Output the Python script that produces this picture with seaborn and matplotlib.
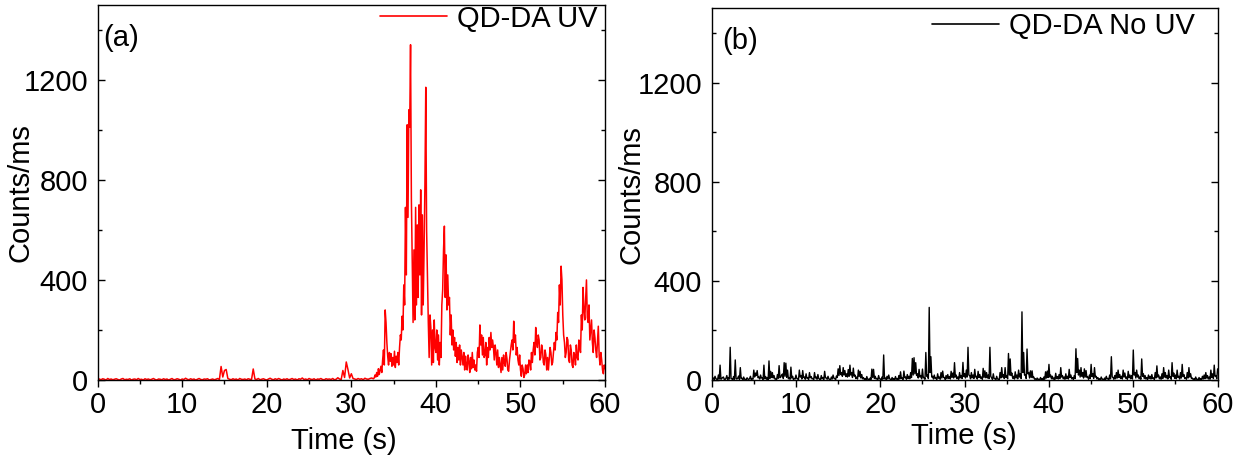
import numpy as np
import pandas as pd
import matplotlib
matplotlib.use("Agg")
import matplotlib.pyplot as plt
from matplotlib.ticker import MultipleLocator
import seaborn as sns

# (a) QD-DA under UV illumination, counts per ms.
# Quiet part sampled every 0.2 s from 0 s, active part every 0.1 s from 32.7 s.
UV_QUIET_DT = 0.2
uv_quiet = [
    # 0.0 - 14.4 s
    2, 4, 1, 5, 3, 0, 6, 2, 4, 1, 3, 5, 2, 0, 4, 6, 1, 3, 2, 5,
    0, 3, 4, 1, 6, 2, 3, 0, 5, 2, 4, 1, 3, 6, 2, 0, 4, 3, 1, 5,
    2, 4, 0, 3, 6, 1, 2, 5, 3, 0, 4, 2, 7, 3, 1, 5, 2, 4, 0, 3,
    6, 2, 1, 4, 3, 5, 0, 2, 4, 1, 3, 6, 2,
    # 14.6 - 15.4 s
    54, 12, 38, 42, 6,
    # 15.6 - 18.2 s
    3, 1, 5, 2, 4, 0, 6, 3, 2, 4, 1, 5, 3, 2,
    # 18.4 s
    44,
    # 18.6 - 28.8 s
    4, 2, 6, 1, 3, 5, 2, 0, 4, 7, 3, 1, 5, 2, 6, 3, 0, 4, 2, 5,
    1, 3, 6, 2, 4, 0, 5, 3, 8, 2, 4, 1, 6, 3, 2, 5, 0, 4, 3, 6,
    2, 1, 5, 3, 4, 2, 6, 1, 3, 9, 4, 2,
    # 29.0 - 30.2 s
    38, 10, 72, 42, 8, 25, 6,
    # 30.4 - 32.6 s
    4, 2, 6, 3, 5, 1, 7, 4, 3, 6, 8, 5,
]

UV_ACTIVE_START = 32.7
UV_ACTIVE_DT = 0.1
uv_active = [
    8, 20, 12, 30, 15, 45, 22, 38, 55, 30,            # 32.7 - 33.6
    80, 120, 60, 280, 230, 150, 95, 60, 110, 75,      # 33.7 - 34.6
    105, 55, 90, 60, 115, 50, 95, 70, 110, 60,        # 34.7 - 35.6
    130, 180, 160, 255, 200, 380, 300, 690, 420, 1020,  # 35.7 - 36.6
    650, 1080, 1010, 1340, 720, 480, 230, 520, 240, 690,  # 36.7 - 37.6
    300, 620, 330, 700, 420, 760, 260, 660, 300, 520,  # 37.7 - 38.6
    780, 1170, 600, 420, 230, 90, 260, 210, 60, 200,   # 38.7 - 39.6
    70, 240, 130, 110, 200, 80, 180, 60, 150, 90,      # 39.7 - 40.6
    300, 360, 520, 615, 330, 500, 280, 420, 300, 330,  # 40.7 - 41.6
    180, 260, 140, 200, 120, 170, 95, 150, 70, 130,    # 41.7 - 42.6
    80, 140, 60, 120, 90, 60, 110, 40, 95, 60,         # 42.7 - 43.6
    40, 100, 75, 30, 90, 45, 110, 50, 80, 40,          # 43.7 - 44.6
    60, 35, 110, 130, 90, 220, 140, 180, 100, 170,     # 44.7 - 45.6
    90, 100, 150, 60, 130, 90, 170, 120, 190, 130,     # 45.7 - 46.6
    160, 130, 80, 140, 110, 60, 120, 50, 90, 60,       # 46.7 - 47.6
    30, 90, 40, 100, 70, 55, 110, 85, 40, 35,          # 47.7 - 48.6
    80, 110, 140, 160, 120, 235, 150, 180, 100, 130,   # 48.7 - 49.6
    80, 60, 100, 40, 15, 60, 45, 10, 20, 60,           # 49.7 - 50.6
    25, 60, 30, 80, 75, 40, 110, 70, 120, 150,         # 50.7 - 51.6
    100, 210, 150, 130, 180, 160, 80, 90, 140, 120,    # 51.7 - 52.6
    70, 60, 120, 100, 40, 90, 40, 85, 130, 110,        # 52.7 - 53.6
    60, 70, 110, 150, 120, 190, 160, 270, 230, 380,    # 53.7 - 54.6
    300, 455, 400, 260, 180, 150, 90, 110, 170, 160,   # 54.7 - 55.6
    80, 70, 140, 120, 60, 50, 110, 100, 60, 140,       # 55.7 - 56.6
    90, 80, 160, 130, 110, 260, 200, 370, 280, 240,    # 56.7 - 57.6
    320, 400, 250, 230, 300, 160, 200, 240, 150, 110,  # 57.7 - 58.6
    200, 170, 120, 90, 150, 215, 100, 60, 110, 80,     # 58.7 - 59.6
    40, 25, 60, 45,                                    # 59.7 - 60.0
]

# (b) QD-DA without UV illumination, counts per ms, sampled every 0.1 s
NO_UV_DT = 0.1
no_uv_counts = [
    44, 5, 8, 2, 15, 6, 3, 0, 20, 4,
    60, 3, 6, 10, 12, 2, 2, 7, 18, 1,
    10, 4, 132, 6, 5, 0, 14, 3, 81, 5,
    4, 8, 16, 2, 50, 6, 7, 1, 12, 3,
    3, 0, 9, 4, 2, 6, 15, 1, 6, 3,
    40, 12, 28, 18, 38, 9, 12, 4, 20, 8,
    8, 2, 60, 5, 14, 3, 10, 1, 77, 6,
    35, 10, 30, 8, 18, 4, 4, 0, 22, 7,
    58, 9, 12, 20, 24, 6, 70, 15, 68, 11,
    40, 5, 10, 3, 52, 8, 15, 2, 6, 4,
    20, 6, 5, 1, 40, 12, 18, 4, 38, 10,
    12, 3, 25, 7, 8, 2, 30, 9, 14, 5,
    6, 1, 30, 8, 12, 3, 22, 6, 4, 0,
    18, 5, 10, 2, 35, 9, 8, 3, 15, 4,
    3, 0, 12, 4, 20, 7, 6, 1, 16, 10,
    45, 18, 58, 22, 30, 15, 50, 20, 38, 14,
    25, 12, 42, 15, 60, 20, 30, 10, 48, 16,
    20, 6, 12, 4, 40, 14, 35, 8, 22, 5,
    10, 2, 5, 0, 14, 3, 3, 1, 8, 2,
    44, 10, 43, 6, 15, 4, 6, 1, 18, 5,
    4, 0, 12, 3, 101, 5, 8, 2, 15, 4,
    20, 5, 3, 0, 10, 2, 6, 1, 14, 3,
    5, 1, 18, 4, 33, 6, 8, 2, 36, 9,
    12, 3, 22, 6, 15, 5, 30, 10, 87, 20,
    90, 25, 70, 18, 25, 8, 43, 12, 18, 5,
    44, 9, 10, 3, 111, 15, 20, 6, 293, 30,
    94, 12, 15, 4, 20, 6, 8, 2, 25, 7,
    12, 3, 30, 8, 36, 10, 10, 2, 18, 5,
    22, 6, 14, 4, 35, 10, 28, 8, 70, 12,
    20, 5, 12, 3, 30, 9, 18, 6, 71, 14,
    25, 8, 40, 12, 132, 20, 18, 5, 30, 9,
    20, 6, 43, 12, 15, 4, 35, 10, 22, 7,
    12, 3, 47, 10, 37, 9, 30, 8, 20, 6,
    132, 15, 8, 2, 25, 6, 5, 1, 15, 4,
    3, 0, 30, 8, 50, 12, 22, 6, 50, 10,
    18, 5, 107, 20, 85, 18, 28, 7, 15, 4,
    33, 8, 20, 5, 40, 12, 25, 6, 275, 30,
    111, 20, 20, 6, 125, 25, 30, 8, 37, 10,
    37, 9, 12, 3, 5, 0, 8, 2, 3, 0,
    10, 2, 6, 1, 12, 3, 33, 8, 36, 10,
    63, 12, 20, 5, 15, 3, 8, 2, 27, 6,
    14, 4, 22, 6, 50, 12, 18, 5, 12, 3,
    25, 6, 15, 4, 43, 10, 20, 5, 10, 2,
    18, 6, 126, 30, 87, 20, 40, 12, 50, 15,
    30, 8, 45, 12, 38, 10, 12, 3, 20, 6,
    63, 14, 25, 6, 50, 12, 15, 4, 10, 2,
    5, 1, 12, 3, 3, 0, 8, 2, 15, 4,
    6, 1, 20, 5, 94, 12, 10, 3, 18, 5,
    30, 8, 40, 10, 22, 6, 15, 4, 40, 12,
    28, 7, 12, 3, 35, 9, 20, 5, 18, 4,
    121, 20, 30, 8, 40, 12, 20, 5, 12, 3,
    85, 15, 25, 6, 18, 4, 10, 2, 20, 6,
    15, 4, 22, 6, 8, 2, 30, 8, 57, 12,
    20, 5, 12, 3, 25, 6, 50, 12, 30, 8,
    18, 4, 40, 10, 12, 3, 70, 15, 28, 7,
    20, 5, 40, 10, 15, 4, 30, 8, 63, 14,
    22, 6, 10, 3, 30, 8, 50, 12, 25, 6,
    8, 2, 5, 1, 12, 3, 3, 0, 10, 2,
    6, 1, 15, 4, 20, 5, 30, 8, 18, 4,
    12, 3, 40, 10, 25, 6, 60, 15, 18, 5,
    45,
]

panel_tags = ["(a)", "(b)"]
series_names = ["QD-DA UV", "QD-DA No UV"]
series_colors = ["#ff0000", "#000000"]
x_label = "Time (s)"
y_label = "Counts/ms"

# Time axes of the two traces
uv_time = np.concatenate([
    np.arange(len(uv_quiet)) * UV_QUIET_DT,
    UV_ACTIVE_START + np.arange(len(uv_active)) * UV_ACTIVE_DT,
])
uv_values = np.asarray(uv_quiet + uv_active, dtype=float)
no_uv_time = np.arange(len(no_uv_counts)) * NO_UV_DT
no_uv_values = np.asarray(no_uv_counts, dtype=float)

sns.set_theme(style="ticks")
plt.rcParams["font.family"] = ["Liberation Sans", "DejaVu Sans"]
plt.rcParams["font.size"] = 21
plt.rcParams["axes.linewidth"] = 1.0
for key in ["text.color", "axes.labelcolor", "xtick.color", "ytick.color",
            "axes.edgecolor"]:
    plt.rcParams[key] = "black"

fig = plt.figure(figsize=(12.45, 4.61), dpi=100)
ax_a = fig.add_axes([0.0784, 0.1757, 0.4076, 0.8141])
ax_b = fig.add_axes([0.5716, 0.1757, 0.4064, 0.8063])

traces = [(uv_time, uv_values), (no_uv_time, no_uv_values)]
line_widths = [1.1, 1.0]
legend_anchor = [(0.985, 1.0), (0.955, 0.99)]
tag_pos = [(0.011, 0.911), (0.021, 0.912)]
ylabel_x = [-0.125, -0.13]
xlabel_y = [-0.125, -0.113]
xlabel_x = [0.486, 0.499]

for i, ax in enumerate([ax_a, ax_b]):
    t, v = traces[i]
    df = pd.DataFrame({"time": t, "counts": v})
    sns.lineplot(data=df, x="time", y="counts", ax=ax, color=series_colors[i],
                 linewidth=line_widths[i], estimator=None, label=series_names[i])

    ax.set_xlim(0, 60)
    ax.set_ylim(0, 1500)
    ax.xaxis.set_major_locator(MultipleLocator(10))
    ax.xaxis.set_minor_locator(MultipleLocator(5))
    ax.yaxis.set_major_locator(MultipleLocator(400))
    ax.yaxis.set_minor_locator(MultipleLocator(200))
    ax.tick_params(axis="x", which="major", direction="out", length=5, width=1,
                   pad=3, labelsize=21, bottom=True, top=False)
    ax.tick_params(axis="x", which="minor", direction="out", length=3, width=1,
                   bottom=True, top=False)
    ax.tick_params(axis="y", which="major", direction="in", length=5, width=1,
                   pad=7, labelsize=21, left=True, right=True)
    ax.tick_params(axis="y", which="minor", direction="in", length=3, width=1,
                   left=True, right=True)
    for side in ["left", "right", "top", "bottom"]:
        ax.spines[side].set_visible(True)
        ax.spines[side].set_color("black")

    ax.set_xlabel(x_label, fontsize=21)
    ax.set_ylabel(y_label, fontsize=21)
    ax.xaxis.set_label_coords(xlabel_x[i], xlabel_y[i])
    ax.yaxis.set_label_coords(ylabel_x[i], 0.5)

    ax.text(tag_pos[i][0], tag_pos[i][1], panel_tags[i], transform=ax.transAxes,
            ha="left", va="center", fontsize=21)

    leg = ax.legend(loc="upper right", bbox_to_anchor=legend_anchor[i],
                    frameon=False, fontsize=21, handlelength=2.3,
                    handletextpad=0.35, borderpad=0.0, borderaxespad=0.0)
    for line in leg.get_lines():
        line.set_linewidth(1.2)

fig.savefig("out.png", dpi=100, facecolor="white")
